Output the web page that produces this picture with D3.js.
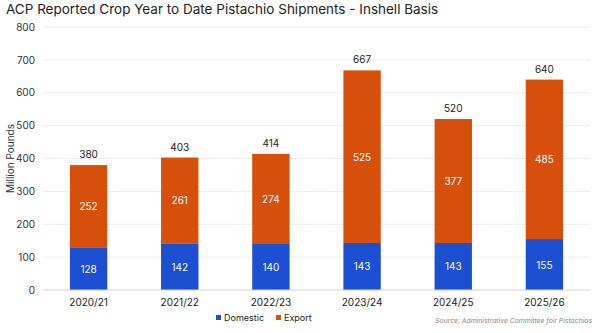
<!DOCTYPE html>
<html>
<head>
<meta charset="utf-8">
<script src="https://cdn.jsdelivr.net/npm/d3@7"></script>
<style>
  body { margin: 0; background: #fff; }
  text { font-family: "Inter", "Noto Sans", sans-serif; }
</style>
</head>
<body>
<svg id="chart" width="600" height="333"></svg>
<script>
const years = ['2020/21', '2021/22', '2022/23', '2023/24', '2024/25', '2025/26'];
const domestic = [128, 142, 140, 143, 143, 155];
const exportVals = [252, 261, 274, 525, 377, 485];
const totals = [380, 403, 414, 667, 520, 640];
const yTicks = [0, 100, 200, 300, 400, 500, 600, 700, 800];

const blue = '#1c4fd2';
const orange = '#d6500b';

const svg = d3.select('svg#chart');
const margin = { left: 43, right: 10, top: 27, bottom: 43 };
const W = 600, H = 333;

const x = d3.scaleBand().domain(years).range([margin.left, W - margin.right]).paddingInner(0.59).paddingOuter(0.295);
const y = d3.scaleLinear().domain([0, 800]).range([H - margin.bottom, margin.top]);

// title
svg.append('text').text('ACP Reported Crop Year to Date Pistachio Shipments - Inshell Basis')
  .attr('x', 6).attr('y', 14).attr('font-size', 13.5).attr('fill', '#222');

// gridlines
svg.append('g').selectAll('line').data(yTicks.filter(d => d > 0)).join('line')
  .attr('x1', margin.left).attr('x2', W - margin.right)
  .attr('y1', d => y(d)).attr('y2', d => y(d))
  .attr('stroke', '#ececec');

// y axis labels
const yAxis = svg.append('g').attr('transform', `translate(${margin.left - 8},0)`)
  .call(d3.axisLeft(y).tickValues(yTicks).tickSize(0).tickPadding(0));
yAxis.select('.domain').remove();
yAxis.selectAll('text').attr('font-size', 10).attr('fill', '#333').attr('font-family', 'Inter, sans-serif');

svg.append('text').text('Million Pounds')
  .attr('transform', `translate(14,${y(400)}) rotate(-90)`)
  .attr('text-anchor', 'middle').attr('font-size', 10).attr('fill', '#333');

// bars
const rows = years.map((yr, i) => ({ yr, d: domestic[i], e: exportVals[i], t: totals[i] }));

svg.append('g').selectAll('rect').data(rows).join('rect')
  .attr('x', r => x(r.yr)).attr('width', x.bandwidth())
  .attr('y', r => y(r.d)).attr('height', r => y(0) - y(r.d))
  .attr('fill', blue);

svg.append('g').selectAll('rect').data(rows).join('rect')
  .attr('x', r => x(r.yr)).attr('width', x.bandwidth())
  .attr('y', r => y(r.d + r.e)).attr('height', r => y(r.d) - y(r.d + r.e))
  .attr('fill', orange);

// value labels
const cx = r => x(r.yr) + x.bandwidth() / 2;
svg.append('g').selectAll('text').data(rows).join('text')
  .text(r => r.d).attr('x', cx).attr('y', r => y(r.d / 2) + 4)
  .attr('text-anchor', 'middle').attr('font-size', 10).attr('fill', '#fff');
svg.append('g').selectAll('text').data(rows).join('text')
  .text(r => r.e).attr('x', cx).attr('y', r => y(r.d + r.e / 2) + 4)
  .attr('text-anchor', 'middle').attr('font-size', 10).attr('fill', '#fff');
svg.append('g').selectAll('text').data(rows).join('text')
  .text(r => r.t).attr('x', cx).attr('y', r => y(r.d + r.e) - 7)
  .attr('text-anchor', 'middle').attr('font-size', 10).attr('fill', '#222');

// baseline
svg.append('line').attr('x1', margin.left).attr('x2', W - margin.right)
  .attr('y1', y(0)).attr('y2', y(0)).attr('stroke', '#d6d6d6');

// x axis labels
svg.append('g').selectAll('text').data(years).join('text')
  .text(d => d).attr('x', d => x(d) + x.bandwidth() / 2).attr('y', y(0) + 16)
  .attr('text-anchor', 'middle').attr('font-size', 10).attr('fill', '#222');

// legend
const legend = [{ name: 'Domestic', color: blue, x: 216 }, { name: 'Export', color: orange, x: 276 }];
const lg = svg.append('g').selectAll('g').data(legend).join('g')
  .attr('transform', d => `translate(${d.x},321)`);
lg.append('rect').attr('x', 0).attr('y', -6).attr('width', 5).attr('height', 5).attr('fill', d => d.color);
lg.append('text').text(d => d.name).attr('x', 8).attr('y', 0).attr('font-size', 9).attr('fill', '#222');

// source
svg.append('text').text('Source: Administrative Committee foir Pistachios')
  .attr('x', 592).attr('y', 323).attr('text-anchor', 'end')
  .attr('font-size', 6.8).attr('font-style', 'italic').attr('fill', '#888');
</script>
</body>
</html>
